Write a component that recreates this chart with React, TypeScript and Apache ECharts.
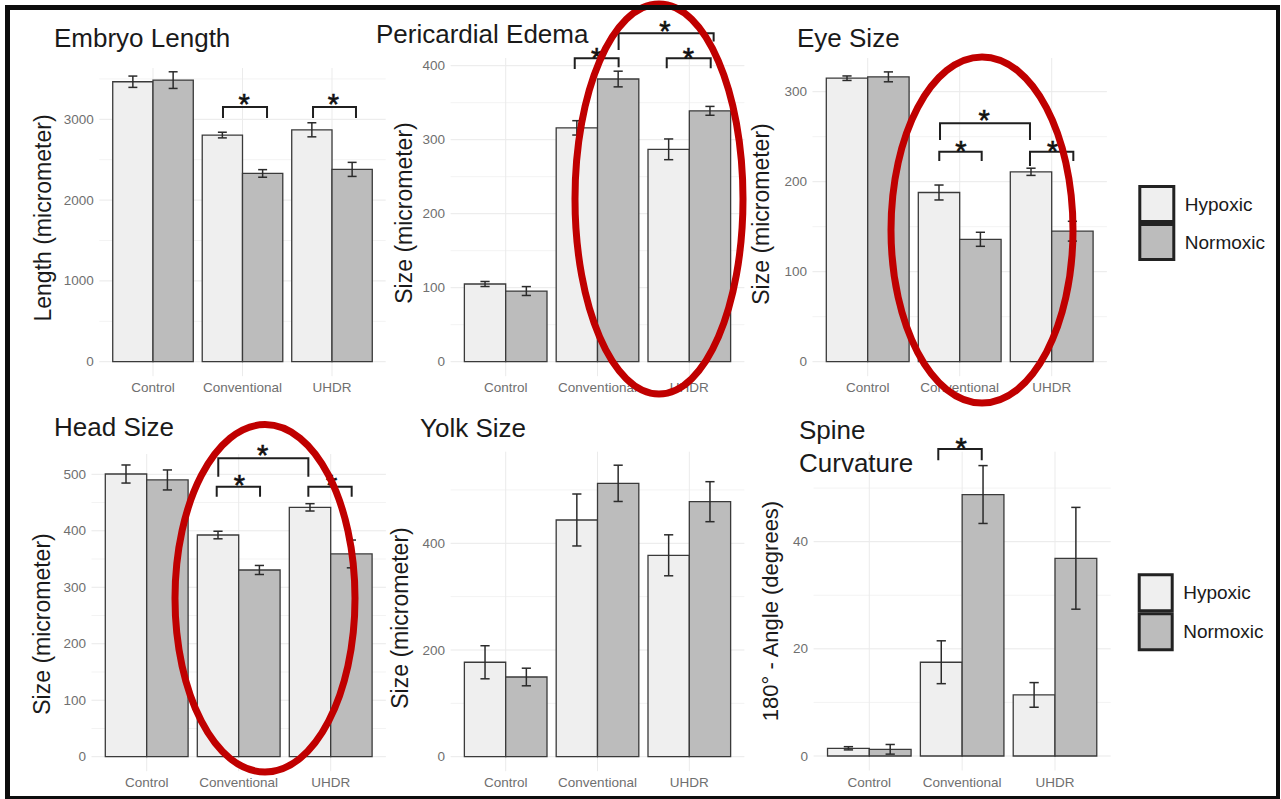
import { useEffect, useRef } from 'react';
import * as echarts from 'echarts';

// ---------- data ----------
const categories = ['Control', 'Conventional', 'UHDR'];
const groupNames = ['Hypoxic', 'Normoxic'];

// Embryo Length
const embryoHypoxic = [3465, 2805, 2870];
const embryoHypoxicSE = [70, 35, 87];
const embryoNormoxic = [3485, 2330, 2380];
const embryoNormoxicSE = [103, 47, 87];
const embryoTicks = [0, 1000, 2000, 3000];
const embryoMinorTicks = [500, 1500, 2500, 3500];
// [x1, x2, yTop, yLegLeft, yLegRight, starX, starY]
const embryoBrackets = [
  [1.782, 2.274, 3152, 3016, 3016, 2.017, 3276],
  [2.788, 3.268, 3152, 3016, 3016, 3.015, 3276],
];

// Pericardial Edema
const edemaHypoxic = [105, 316, 287];
const edemaHypoxicSE = [3.4, 9.7, 14];
const edemaNormoxic = [95.5, 382, 339];
const edemaNormoxicSE = [6, 10.6, 6];
const edemaTicks = [0, 100, 200, 300, 400];
const edemaMinorTicks = [50, 150, 250, 350];
const edemaBrackets = [
  [1.752, 2.23, 410, 395.5, 398, 1.991, 419],
  [2.754, 3.233, 410, 396.5, 396.5, 2.989, 419],
  [2.23, 3.265, 443.8, 421.2, 432.6, 2.735, 456],
];

// Eye Size
const eyeHypoxic = [315, 188, 211];
const eyeHypoxicSE = [2.5, 8.3, 4];
const eyeNormoxic = [316.5, 136, 145];
const eyeNormoxicSE = [5.5, 7.8, 11];
const eyeTicks = [0, 100, 200, 300];
const eyeMinorTicks = [50, 150, 250];
const eyeBrackets = [
  [1.778, 2.239, 233.3, 223, 223, 2.014, 241.9],
  [2.764, 3.235, 233.3, 217.4, 223, 3.011, 241.9],
  [1.786, 2.764, 264.9, 246.3, 246.3, 2.267, 276.3],
];

// Head Size
const headHypoxic = [500.5, 392.5, 441.5];
const headHypoxicSE = [16, 6.7, 6.5];
const headNormoxic = [490, 330.6, 359];
const headNormoxicSE = [17.7, 8, 24.6];
const headTicks = [0, 100, 200, 300, 400, 500];
const headMinorTicks = [50, 150, 250, 350, 450];
const headBrackets = [
  [1.761, 2.232, 478, 460.3, 460.3, 2.007, 492.9],
  [2.757, 3.228, 478, 460.3, 460.3, 3.011, 492.9],
  [1.778, 2.757, 528.3, 495.8, 495.8, 2.261, 546],
];

// Yolk Size
const yolkHypoxic = [177, 443.7, 377.5];
const yolkHypoxicSE = [31, 48.7, 38.4];
const yolkNormoxic = [149.4, 512.4, 478];
const yolkNormoxicSE = [16.5, 34, 37.5];
const yolkTicks = [0, 200, 400];
const yolkMinorTicks = [100, 300, 500];
const yolkBrackets: number[][] = [];

// Spine Curvature
const spineHypoxic = [1.44, 17.5, 11.4];
const spineHypoxicSE = [0.3, 4, 2.3];
const spineNormoxic = [1.25, 48.8, 36.9];
const spineNormoxicSE = [0.9, 5.4, 9.5];
const spineTicks = [0, 20, 40];
const spineMinorTicks = [10, 30, 50];
const spineBrackets = [[1.743, 2.211, 57.3, 55.2, 55.2, 1.988, 58.66]];

const panels = [
  { title: 'Embryo Length', yName: 'Length (micrometer)', hyp: embryoHypoxic, hypSE: embryoHypoxicSE, nor: embryoNormoxic, norSE: embryoNormoxicSE, ticks: embryoTicks, minor: embryoMinorTicks, brackets: embryoBrackets },
  { title: 'Pericardial Edema', yName: 'Size (micrometer)', hyp: edemaHypoxic, hypSE: edemaHypoxicSE, nor: edemaNormoxic, norSE: edemaNormoxicSE, ticks: edemaTicks, minor: edemaMinorTicks, brackets: edemaBrackets },
  { title: 'Eye Size', yName: 'Size (micrometer)', hyp: eyeHypoxic, hypSE: eyeHypoxicSE, nor: eyeNormoxic, norSE: eyeNormoxicSE, ticks: eyeTicks, minor: eyeMinorTicks, brackets: eyeBrackets },
  { title: 'Head Size', yName: 'Size (micrometer)', hyp: headHypoxic, hypSE: headHypoxicSE, nor: headNormoxic, norSE: headNormoxicSE, ticks: headTicks, minor: headMinorTicks, brackets: headBrackets },
  { title: 'Yolk Size', yName: 'Size (micrometer)', hyp: yolkHypoxic, hypSE: yolkHypoxicSE, nor: yolkNormoxic, norSE: yolkNormoxicSE, ticks: yolkTicks, minor: yolkMinorTicks, brackets: yolkBrackets },
  { title: 'Spine\nCurvature', yName: '180° - Angle (degrees)', hyp: spineHypoxic, hypSE: spineHypoxicSE, nor: spineNormoxic, norSE: spineNormoxicSE, ticks: spineTicks, minor: spineMinorTicks, brackets: spineBrackets },
];

// ---------- layout ----------
const layouts = [
  { left: 99.3, right: 385.7, top: 68, zero: 361.7, k: 0.0808, tx: 54, ty: 24.5, ax: 43, ay: 218, afs: 23 },
  { left: 450.6, right: 744.4, top: 58, zero: 361.7, k: 0.74, tx: 376, ty: 21, ax: 404, ay: 213, afs: 23 },
  { left: 812.5, right: 1106.9, top: 58, zero: 361.7, k: 0.9, tx: 797, ty: 25, ax: 761, ay: 214, afs: 23 },
  { left: 91.5, right: 385.9, top: 454, zero: 756.7, k: 0.5648, tx: 54, ty: 414, ax: 41.7, ay: 624, afs: 23 },
  { left: 450.6, right: 744.4, top: 451.7, zero: 756.7, k: 0.5335, tx: 420, ty: 415, ax: 400, ay: 618, afs: 23 },
  { left: 813.6, right: 1110.7, top: 451.7, zero: 756, k: 5.358, tx: 799, ty: 413.5, ax: 770, ay: 611, afs: 22 },
];
const legendLayouts = [
  { left: 1138.3, top: 185, w: 34, h: 35 },
  { left: 1137.7, top: 573.3, w: 33, h: 36 },
];
const ellipses = [
  { cx: 659, cy: 199, rx: 84, ry: 195 },
  { cx: 982, cy: 230, rx: 91, ry: 173 },
  { cx: 265, cy: 598.3, rx: 90, ry: 173.7 },
];

const FONT = '"Liberation Sans", Arial, Helvetica, sans-serif';
const FILLS = ['#efefef', '#bcbcbc'];
const BAR_W = 0.45;
const CAP = 0.05;
const PAD = 14.5;
const STAR_FS = 29;

export default function App() {
  const ref = useRef<HTMLDivElement>(null);

  useEffect(() => {
    const chart = echarts.init(ref.current!, undefined, { renderer: 'svg' });
    const grid: any[] = [];
    const xAxis: any[] = [];
    const yAxis: any[] = [];
    const series: any[] = [];
    const title: any[] = [];
    const graphic: any[] = [];

    panels.forEach((p, i) => {
      const L = layouts[i];
      const yMax = (L.zero - L.top) / L.k;
      const yMin = -PAD / L.k;
      grid.push({
        left: L.left,
        top: L.top,
        width: L.right - L.left,
        height: L.zero + PAD - L.top,
        containLabel: false,
        outerBoundsMode: 'none',
      });
      xAxis.push({
        type: 'value',
        gridIndex: i,
        min: 0.4,
        max: 3.6,
        axisLine: { show: false },
        axisTick: { show: false, customValues: [1, 2, 3] },
        splitLine: { show: false },
        axisLabel: {
          customValues: [1, 2, 3],
          formatter: (v: number) => categories[Math.round(v) - 1] ?? '',
          margin: 4.5,
          fontSize: 13.5,
          color: '#6f6f6f',
          fontFamily: FONT,
        },
      });
      yAxis.push({
        type: 'value',
        gridIndex: i,
        min: yMin,
        max: yMax,
        axisLine: { show: false },
        axisTick: { show: false, customValues: p.ticks },
        splitLine: { show: false },
        axisLabel: {
          customValues: p.ticks,
          formatter: (v: number) => String(v),
          margin: 5.5,
          fontSize: 13.5,
          color: '#6f6f6f',
          fontFamily: FONT,
        },
      });

      // grid lines
      const gridData = [
        ...p.ticks.map((v) => [0, v]),
        ...p.minor.map((v) => [1, v]),
        ...categories.map((_, c) => [2, c + 1]),
      ];
      series.push({
        type: 'custom',
        xAxisIndex: i,
        yAxisIndex: i,
        silent: true,
        z: 1,
        data: gridData,
        renderItem: (params: any, api: any) => {
          const kind = api.value(0);
          const v = api.value(1);
          const cs = params.coordSys;
          if (kind === 2) {
            const x = api.coord([v, 0])[0];
            return { type: 'line', shape: { x1: x, y1: cs.y, x2: x, y2: cs.y + cs.height }, style: { stroke: '#ebebeb', lineWidth: 1 } };
          }
          const y = api.coord([1, v])[1];
          return {
            type: 'line',
            shape: { x1: cs.x, y1: y, x2: cs.x + cs.width, y2: y },
            style: { stroke: kind === 0 ? '#e9e9e9' : '#f3f3f3', lineWidth: 1 },
          };
        },
      });

      // bars + error bars
      [
        { name: groupNames[0], m: p.hyp, s: p.hypSE, side: -1, fill: FILLS[0] },
        { name: groupNames[1], m: p.nor, s: p.norSE, side: 1, fill: FILLS[1] },
      ].forEach((g) => {
        series.push({
          type: 'custom',
          name: g.name,
          xAxisIndex: i,
          yAxisIndex: i,
          silent: true,
          z: 3,
          itemStyle: { color: g.fill, borderColor: '#333', borderWidth: 1 },
          data: categories.map((_, c) => [c + 1, g.m[c], g.s[c]]),
          renderItem: (params: any, api: any) => {
            const cx = api.value(0) + (g.side * BAR_W) / 2;
            const m = api.value(1);
            const s = api.value(2);
            const a = api.coord([cx - BAR_W / 2, 0]);
            const b = api.coord([cx + BAR_W / 2, m]);
            const top = api.coord([cx, m + s]);
            const bot = api.coord([cx, m - s]);
            const cl = api.coord([cx - CAP, 0])[0];
            const cr = api.coord([cx + CAP, 0])[0];
            const es = { stroke: '#2b2b2b', lineWidth: 1.5 };
            return {
              type: 'group',
              children: [
                { type: 'rect', shape: { x: a[0], y: b[1], width: b[0] - a[0], height: a[1] - b[1] }, style: { fill: g.fill, stroke: '#3a3a3a', lineWidth: 1.3 } },
                { type: 'line', shape: { x1: top[0], y1: top[1], x2: bot[0], y2: bot[1] }, style: es },
                { type: 'line', shape: { x1: cl, y1: top[1], x2: cr, y2: top[1] }, style: es },
                { type: 'line', shape: { x1: cl, y1: bot[1], x2: cr, y2: bot[1] }, style: es },
              ],
            };
          },
        });
      });

      // significance brackets
      if (p.brackets.length) {
        series.push({
          type: 'custom',
          xAxisIndex: i,
          yAxisIndex: i,
          silent: true,
          clip: false,
          z: 5,
          data: p.brackets,
          renderItem: (params: any, api: any) => {
            const x1 = api.value(0), x2 = api.value(1), yt = api.value(2);
            const y1 = api.value(3), y2 = api.value(4), sx = api.value(5), sy = api.value(6);
            const pts = [api.coord([x1, y1]), api.coord([x1, yt]), api.coord([x2, yt]), api.coord([x2, y2])];
            const st = api.coord([sx, sy]);
            return {
              type: 'group',
              children: [
                { type: 'polyline', shape: { points: pts }, style: { stroke: '#1f1f1f', lineWidth: 2, fill: 'none' } },
                {
                  type: 'text',
                  x: st[0],
                  y: st[1] + 0.228 * STAR_FS,
                  style: { text: '*', fontSize: STAR_FS, fontFamily: FONT, fill: '#111', stroke: '#111', lineWidth: 0.6, align: 'center', verticalAlign: 'middle' },
                },
              ],
            };
          },
        });
      }

      title.push({
        text: p.title,
        left: L.tx,
        top: L.ty,
        padding: 0,
        textStyle: { fontSize: 26, fontWeight: 'normal', fontFamily: FONT, color: '#1a1a1a', lineHeight: i === 5 ? 33 : 26 },
      });

      graphic.push({
        type: 'text',
        x: L.ax,
        y: L.ay,
        rotation: Math.PI / 2,
        silent: true,
        style: { text: p.yName, fontSize: L.afs, fontFamily: FONT, fill: '#1a1a1a', align: 'center', verticalAlign: 'middle' },
      });
    });

    ellipses.forEach((e) => {
      graphic.push({
        type: 'ellipse',
        shape: e,
        silent: true,
        z: 100,
        style: { fill: 'none', stroke: '#c00000', lineWidth: 7 },
      });
    });

    // frame
    [
      { x: 5, y: 5, width: 1275, height: 5 },
      { x: 5, y: 5, width: 5, height: 794 },
      { x: 1276, y: 5, width: 4, height: 794 },
      { x: 5, y: 796, width: 1275, height: 3 },
    ].forEach((r) => graphic.push({ type: 'rect', shape: r, silent: true, z: 110, style: { fill: '#0d0d0d' } }));

    const legend = legendLayouts.map((l) => ({
      orient: 'vertical',
      left: l.left,
      top: l.top,
      padding: 0,
      itemWidth: l.w,
      itemHeight: l.h,
      itemGap: 0,
      icon: 'rect',
      selectedMode: false,
      itemStyle: { borderWidth: 3, borderColor: '#222' },
      textStyle: { fontSize: 19, fontFamily: FONT, color: '#1a1a1a', padding: [0, 0, 0, 6] },
      data: groupNames.map((n, j) => ({ name: n, itemStyle: { color: FILLS[j] } })),
    }));

    chart.setOption({
      animation: false,
      backgroundColor: '#ffffff',
      title,
      legend,
      grid,
      xAxis,
      yAxis,
      series,
      graphic,
    });

    return () => chart.dispose();
  }, []);

  return <div ref={ref} style={{ position: 'fixed', left: 0, top: 0, width: 1281, height: 799, background: '#fff' }} />;
}
